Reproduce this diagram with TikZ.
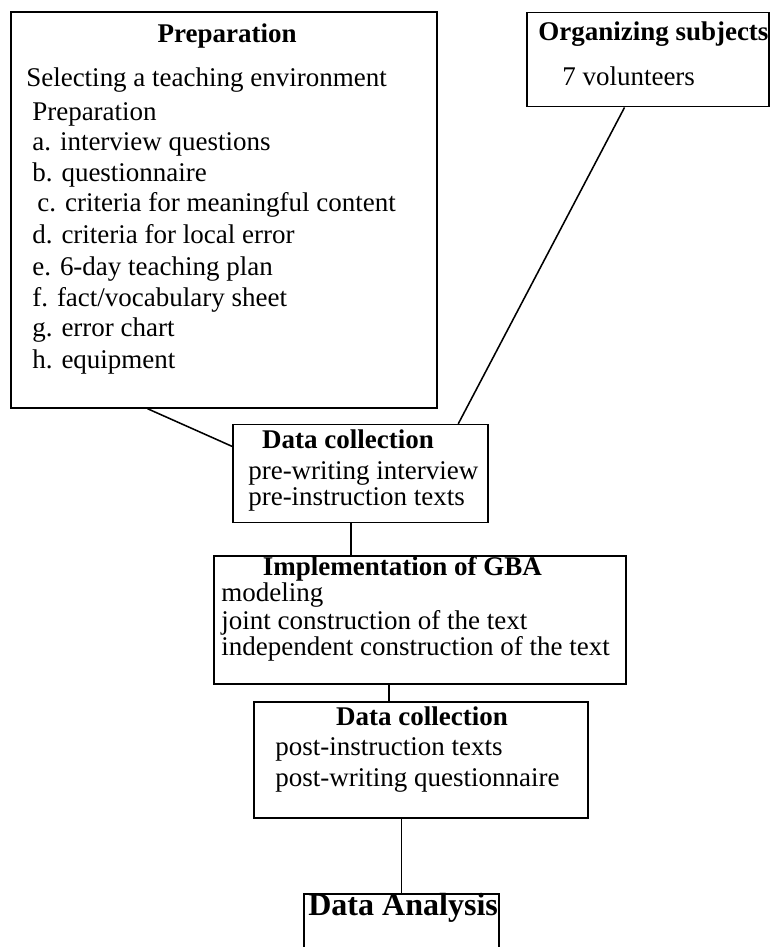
\documentclass[tikz,border=0pt]{standalone}
\usepackage{fontspec}
\setmainfont{Liberation Serif}
\usepackage{tikz}
\usetikzlibrary{positioning}

\begin{document}
\begin{tikzpicture}[x=1cm,y=1cm,
  stagebox/.style={draw,line width=1.2pt,inner sep=0pt,anchor=north west},
  stagehead/.style={inner sep=0pt,anchor=mid,font=\fontsize{19.2}{23}\selectfont\bfseries},
  stageline/.style={inner sep=0pt,anchor=mid west,font=\fontsize{19.2}{23}\selectfont},
  link/.style={line width=1.1pt}]
\path[use as bounding box] (0,0) rectangle (19.30,23.675);
% the boxes
\node[stagebox,minimum width=10.65cm,minimum height=9.90cm] (prep) at (0.25,23.40) {};
\node[stagebox,minimum width=6.05cm,minimum height=2.35cm] (org) at (13.15,23.38) {};
\node[stagebox,minimum width=6.38cm,minimum height=2.45cm] (dcpre) at (5.80,13.08) {};
\node[stagebox,minimum width=10.30cm,minimum height=3.20cm] (gba) at (5.33,9.80) {};
\node[stagebox,minimum width=8.35cm,minimum height=2.90cm] (dcpost) at (6.33,6.15) {};
\node[stagebox,minimum width=4.87cm,minimum height=2.20cm] (analysis) at (7.58,1.35) {};
% preparation
\node[stagehead] (prephead) at (5.68,22.70) {Preparation};
\node[stageline] (prepA) at (0.65,21.60) {Selecting a teaching environment};
\node[stageline] (prepB) at (0.80,20.75) {Preparation};
\node[stageline] (prepC) at (0.80,20.00) {a. interview questions};
\node[stageline] (prepD) at (0.80,19.23) {b. questionnaire};
\node[stageline] (prepE) at (0.93,18.48) {c. criteria for meaningful content};
\node[stageline] (prepF) at (0.80,17.68) {d. criteria for local error};
\node[stageline] (prepG) at (0.80,16.88) {e. 6-day teaching plan};
\node[stageline] (prepH) at (0.80,16.10) {f. fact/vocabulary sheet};
\node[stageline] (prepI) at (0.80,15.35) {g. error chart};
\node[stageline] (prepJ) at (0.80,14.55) {h. equipment};
% subjects
\node[stagehead,anchor=mid west] (orghead) at (13.45,22.75) {Organizing subjects};
\node[stageline] (orgA) at (14.05,21.63) {7 volunteers};
% first data collection
\node[stagehead] (dcprehead) at (8.70,12.55) {Data collection};
\node[stageline] (dcpreA) at (6.20,11.78) {pre-writing interview};
\node[stageline] (dcpreB) at (6.20,11.13) {pre-instruction texts};
% GBA
\node[stagehead] (gbahead) at (10.06,9.38) {Implementation of GBA};
\node[stageline] (gbaA) at (5.53,8.72) {modeling};
\node[stageline] (gbaB) at (5.53,8.03) {joint construction of the text};
\node[stageline] (gbaC) at (5.53,7.38) {independent construction of the text};
% second data collection
\node[stagehead] (dcposthead) at (10.55,5.62) {Data collection};
\node[stageline] (dcpostA) at (6.88,4.88) {post-instruction texts};
\node[stageline] (dcpostB) at (6.88,4.10) {post-writing questionnaire};
% analysis
\node[stageline,font=\fontsize{22.8}{27}\selectfont\bfseries] (analysisA) at (7.70,0.88) {Data Analysis};
% links
\draw[link] (prep.-111) -- (dcpre.168);
\draw[link] (org.-116) -- (dcpre.27);
\draw[link] ([xshift=-0.24cm]dcpre.south) -- ([xshift=-0.24cm]dcpre.south |- gba.north);
\draw[link] ([xshift=-0.78cm]gba.south) -- ([xshift=-0.78cm]gba.south |- dcpost.north);
\draw[link] (analysis.north |- dcpost.south) -- (analysis.north);
\end{tikzpicture}
\end{document}
